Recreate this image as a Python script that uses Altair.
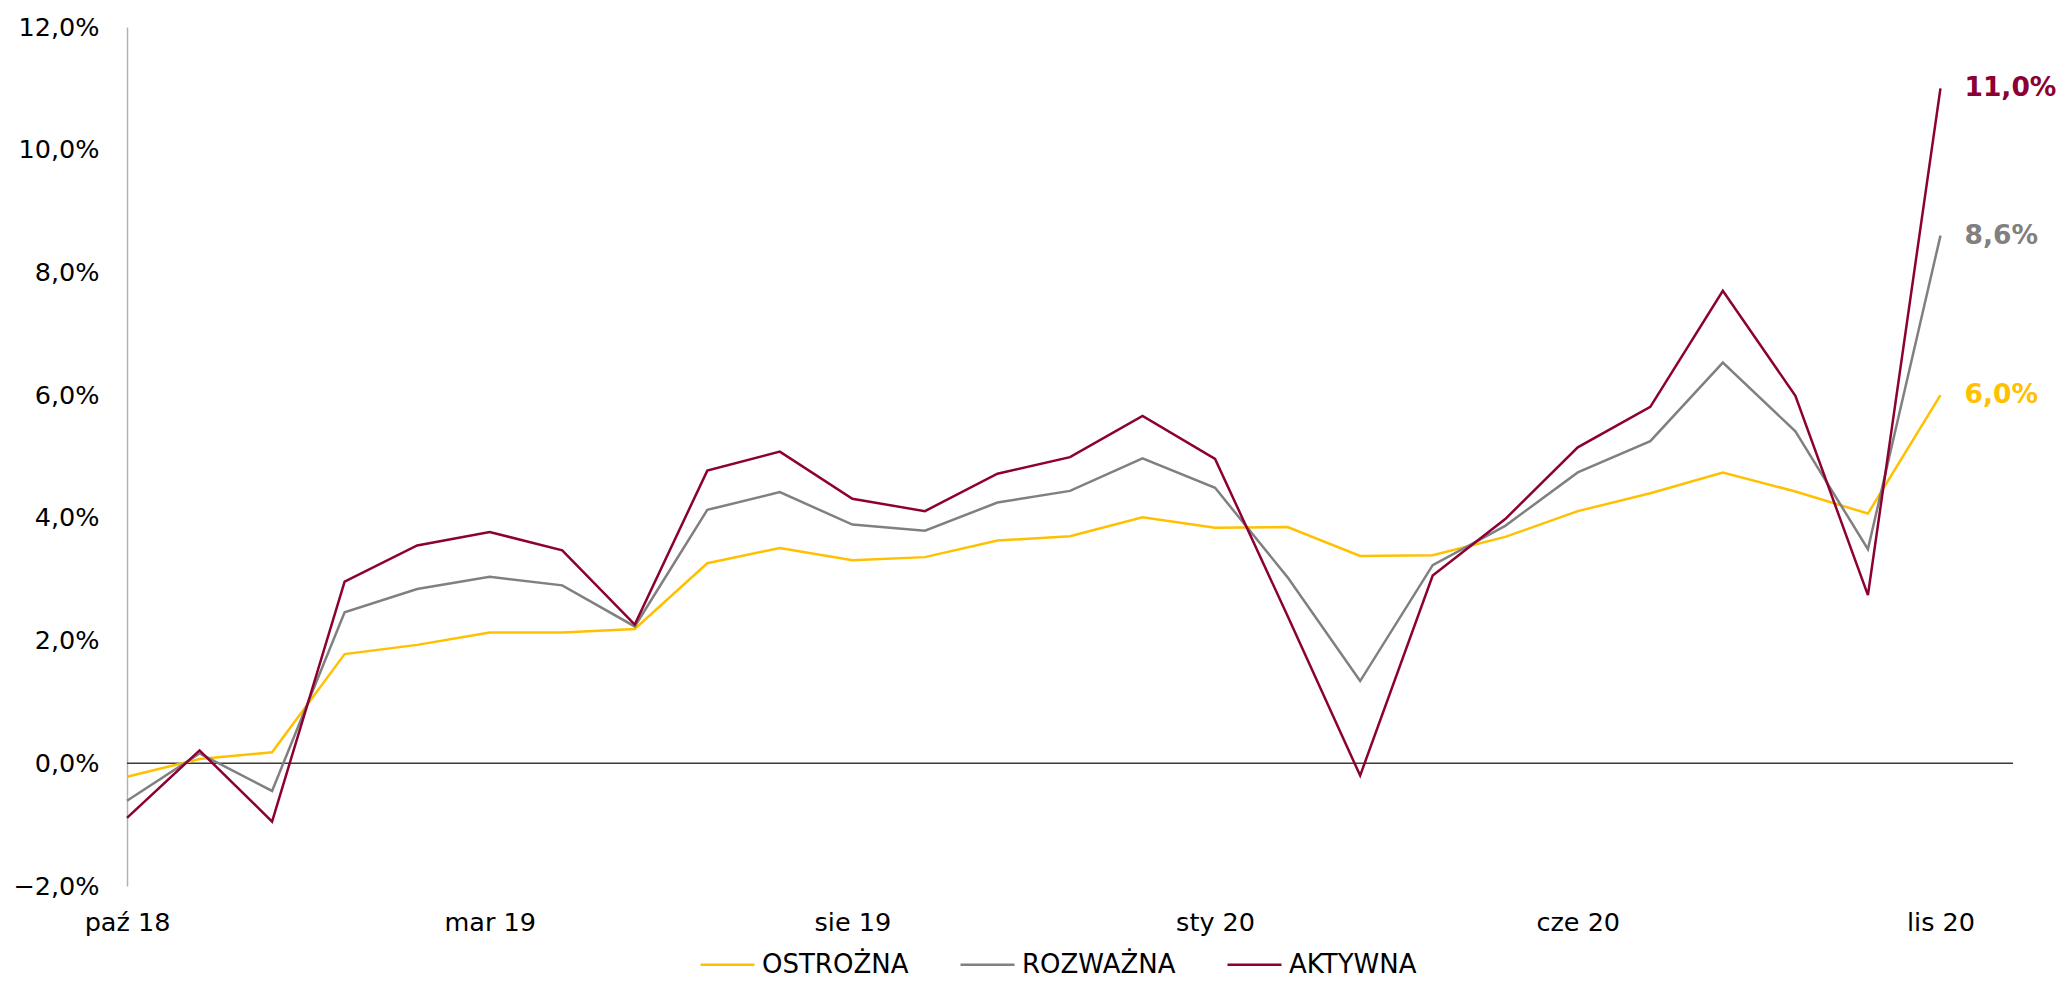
import altair as alt
import pandas as pd

months = ["paź 18", "lis 18", "gru 18", "sty 19", "lut 19", "mar 19", "kwi 19", "maj 19",
          "cze 19", "lip 19", "sie 19", "wrz 19", "paź 19", "lis 19", "gru 19", "sty 20",
          "lut 20", "mar 20", "kwi 20", "maj 20", "cze 20", "lip 20", "sie 20", "wrz 20",
          "paź 20", "lis 20"]

series_names = ["OSTROŻNA", "ROZWAŻNA", "AKTYWNA"]
series_colors = ["#FFC000", "#808080", "#8C0033"]

ostrozna = [-0.22, 0.07, 0.18, 1.78, 1.93, 2.13, 2.13, 2.19, 3.26, 3.51, 3.31, 3.36, 3.63,
            3.70, 4.01, 3.84, 3.85, 3.38, 3.39, 3.69, 4.11, 4.40, 4.74, 4.43, 4.07, 6.0]
rozwazna = [-0.61, 0.16, -0.45, 2.46, 2.84, 3.04, 2.90, 2.23, 4.13, 4.42, 3.89, 3.79, 4.25,
            4.44, 4.97, 4.49, 3.03, 1.34, 3.23, 3.87, 4.74, 5.25, 6.53, 5.41, 3.49, 8.6]
aktywna = [-0.89, 0.21, -0.95, 2.96, 3.55, 3.77, 3.47, 2.26, 4.77, 5.08, 4.31, 4.11, 4.72,
           4.99, 5.66, 4.96, 2.40, -0.20, 3.06, 3.98, 5.15, 5.81, 7.70, 5.99, 2.74, 11.0]

end_labels = ["6,0%", "8,6%", "11,0%"]

x_tick_idx = [0, 5, 10, 15, 20, 25]
y_ticks = [-2, 0, 2, 4, 6, 8, 10, 12]

rows = []
for name, vals in zip(series_names, [ostrozna, rozwazna, aktywna]):
    for i, v in enumerate(vals):
        rows.append({"idx": i, "month": months[i], "series": name, "value": v})
df = pd.DataFrame(rows)

last = pd.DataFrame({
    "idx": [len(months) - 1] * 3,
    "series": series_names,
    "value": [ostrozna[-1], rozwazna[-1], aktywna[-1]],
    "label": end_labels,
})

FONT = "DejaVu Sans"
label_arr = "[" + ",".join("'" + m + "'" for m in months) + "]"

x_scale = alt.Scale(domain=[0, len(months)], nice=False, zero=False)
y_scale = alt.Scale(domain=[-2, 12], nice=False)
color_scale = alt.Scale(domain=series_names, range=series_colors)

x_enc = alt.X("idx:Q", scale=x_scale,
              axis=alt.Axis(values=x_tick_idx, labelExpr=label_arr + "[datum.value]",
                            domain=False, ticks=False, grid=False, labelPadding=24,
                            labelFontSize=25.5, labelFont=FONT, labelColor="#000000",
                            labelFlush=False, title=None))
y_enc = alt.Y("value:Q", scale=y_scale,
              axis=alt.Axis(values=y_ticks,
                            labelExpr="replace(format(datum.value, '.1f'), '.', ',') + '%'",
                            domain=True, domainColor="#b3b3b3", domainWidth=1.5,
                            ticks=False, grid=False, labelPadding=28,
                            labelFontSize=25.5, labelFont=FONT, labelColor="#000000",
                            title=None))

zero = alt.Chart(pd.DataFrame({"z": [0]})).mark_rule(color="#3a3a3a", strokeWidth=1.5).encode(
    y=alt.Y("z:Q", scale=y_scale))

lines = alt.Chart(df).mark_line(strokeWidth=2.5).encode(
    x=x_enc,
    y=y_enc,
    color=alt.Color("series:N", scale=color_scale, sort=series_names,
                    legend=alt.Legend(title=None, orient="none", direction="horizontal",
                                      legendX=572, legendY=909,
                                      symbolType="stroke", symbolSize=2916,
                                      symbolStrokeWidth=2.6, labelFontSize=26,
                                      labelFont=FONT, labelColor="#000000",
                                      labelOffset=6, columnPadding=46)),
    detail="series:N",
)

labels = alt.Chart(last).mark_text(align="left", baseline="middle", dx=24,
                                   fontSize=26.5, fontWeight="bold", font=FONT).encode(
    x=alt.X("idx:Q", scale=x_scale),
    y=alt.Y("value:Q", scale=y_scale),
    text="label:N",
    color=alt.Color("series:N", scale=color_scale, legend=None),
)

chart = alt.layer(zero, lines, labels).properties(
    width=1886, height=859,
    autosize=alt.AutoSizeParams(type="none"),
    padding={"left": 119, "top": 19, "right": 48, "bottom": 93},
    background="#ffffff",
).configure_view(stroke=None, strokeWidth=0)

chart.save("out.html", embed_options={"renderer": "svg", "actions": False})
